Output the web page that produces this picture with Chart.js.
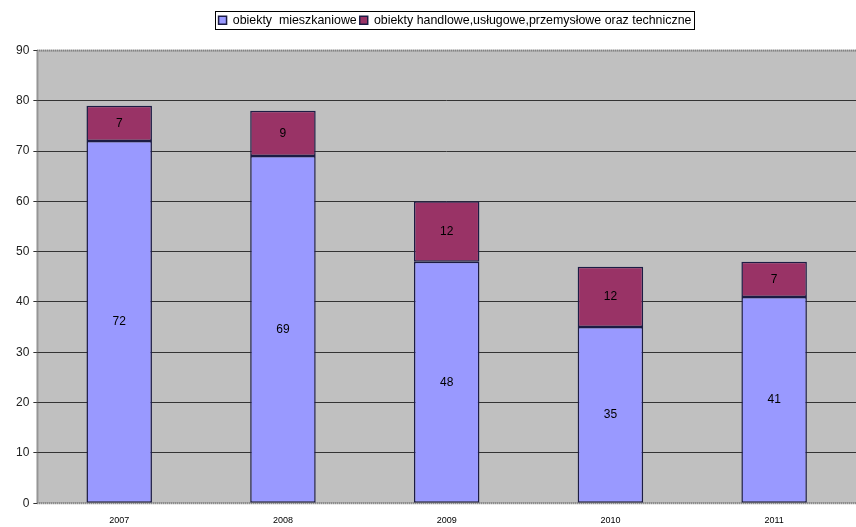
<!DOCTYPE html>
<html>
<head>
<meta charset="utf-8">
<script src="https://cdn.jsdelivr.net/npm/chart.js@4/dist/chart.umd.min.js"></script>
<style>
  html, body { margin: 0; padding: 0; background: #fff; }
  #wrap { width: 856px; height: 527px; }
</style>
</head>
<body>
<div id="wrap"><canvas id="budynkiChart" width="856" height="527"></canvas></div>
<script>
const years = ['2007', '2008', '2009', '2010', '2011'];
const mieszkaniowe = [72, 69, 48, 35, 41];
const handlowe = [7, 9, 12, 12, 7];
const seriesNames = [
    'obiekty  mieszkaniowe',
    'obiekty handlowe,usługowe,przemysłowe oraz techniczne'
];

// gray plot background + dotted frame
const plotFrame = {
    id: 'plot_frame',
    beforeDraw: (chart) => {
        const ctx = chart.ctx;
        const { top, left, right, bottom } = chart.chartArea;
        ctx.save();
        ctx.fillStyle = '#C0C0C0';
        ctx.fillRect(left, top, right - left, bottom - top);
        ctx.restore();
    },
    afterDraw: (chart) => {
        const ctx = chart.ctx;
        const { top, left, right, bottom } = chart.chartArea;
        ctx.save();
        ctx.strokeStyle = '#555555';
        ctx.lineWidth = 2;
        ctx.setLineDash([1, 1]);
        ctx.beginPath();
        ctx.moveTo(left, top);
        ctx.lineTo(right, top);
        ctx.moveTo(left, top);
        ctx.lineTo(left, bottom);
        ctx.moveTo(left, bottom);
        ctx.lineTo(right, bottom);
        ctx.stroke();
        ctx.restore();

        // box round the legend
        const lg = chart.legend;
        if (lg && lg.legendHitBoxes && lg.legendHitBoxes.length) {
            const boxes = lg.legendHitBoxes;
            const x0 = boxes[0].left - 4;
            const last = boxes[boxes.length - 1];
            const x1 = last.left + last.width + 2;
            const y0 = boxes[0].top - 3;
            const y1 = boxes[0].top + boxes[0].height + 3;
            ctx.save();
            ctx.strokeStyle = '#000000';
            ctx.lineWidth = 1;
            ctx.strokeRect(Math.round(x0) + 0.5, Math.round(y0) + 0.5, Math.round(x1 - x0), Math.round(y1 - y0));
            ctx.restore();
        }
    }
};

// value labels in the middle of each segment
const valueLabels = {
    id: 'value_labels',
    afterDatasetsDraw: (chart) => {
        const ctx = chart.ctx;
        ctx.save();
        ctx.fillStyle = '#000000';
        ctx.font = '12px "Liberation Sans", Arial, sans-serif';
        ctx.textAlign = 'center';
        ctx.textBaseline = 'middle';
        chart.data.datasets.forEach((ds, i) => {
            chart.getDatasetMeta(i).data.forEach((bar, j) => {
                const y = (bar.y + bar.base) / 2;
                ctx.fillText(String(ds.data[j]), bar.x, y);
            });
        });
        ctx.restore();
    }
};

const legendSpace = {
    id: 'legend_space',
    beforeInit: (chart) => {
        const fit = chart.legend.fit;
        chart.legend.fit = function () {
            fit.bind(chart.legend)();
            this.height += 14;
        };
    },
    afterLayout: (chart) => {
        // legend sits a bit right of centre in the original
        chart.legend.left += 40;
    }
};

const data = {
    labels: years,
    datasets: [{
        label: seriesNames[0],
        data: mieszkaniowe,
        backgroundColor: '#9999FF',
        borderColor: '#1c1c44',
        borderWidth: 1.5,
        borderSkipped: false
    }, {
        label: seriesNames[1],
        data: handlowe,
        backgroundColor: '#993366',
        borderColor: '#1c1c44',
        borderWidth: 1.5,
        borderSkipped: false
    }]
};

const config = {
    type: 'bar',
    data: data,
    plugins: [plotFrame, valueLabels, legendSpace],
    options: {
        responsive: false,
        animation: false,
        layout: {
            padding: { top: 11, left: 12, right: -2, bottom: -11 }
        },
        datasets: {
            bar: { barPercentage: 0.4, categoryPercentage: 1 }
        },
        scales: {
            x: {
                stacked: true,
                grid: { display: false, drawTicks: false },
                border: { display: false },
                ticks: {
                    color: '#000000',
                    padding: 12,
                    font: { family: '"Liberation Sans", Arial, sans-serif', size: 9 }
                }
            },
            y: {
                stacked: true,
                min: 0,
                max: 90,
                ticks: {
                    stepSize: 10,
                    color: '#222222',
                    padding: 4,
                    font: { family: '"Liberation Sans", Arial, sans-serif', size: 12 }
                },
                grid: {
                    color: (c) => (c.tick && (c.tick.value === 0 || c.tick.value === 90)) ? 'rgba(0,0,0,0)' : '#333333',
                    lineWidth: 1,
                    tickLength: 4,
                    tickColor: '#333333'
                },
                border: { display: false }
            }
        },
        plugins: {
            tooltip: { enabled: false },
            legend: {
                display: true,
                position: 'top',
                align: 'center',
                labels: {
                    color: '#000000',
                    boxWidth: 8,
                    boxHeight: 8,
                    padding: 3,
                    font: { family: '"Liberation Sans", Arial, sans-serif', size: 12.4 }
                }
            }
        }
    }
};

const budynkiChart = new Chart(document.getElementById('budynkiChart'), config);
</script>
</body>
</html>
